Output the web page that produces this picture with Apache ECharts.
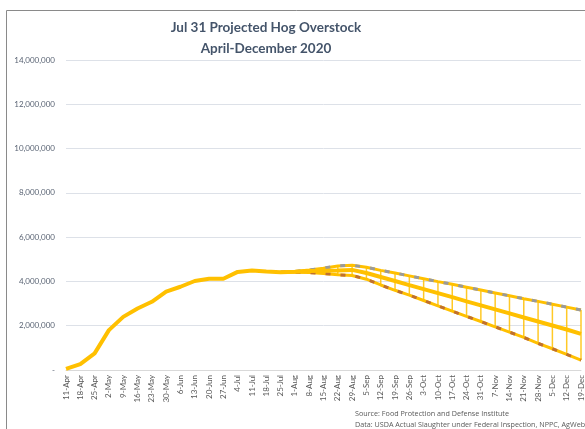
<!DOCTYPE html>
<html>
<head>
<meta charset="utf-8">
<script src="https://cdn.jsdelivr.net/npm/echarts@6/dist/echarts.min.js"></script>
<style>
  html, body { margin: 0; padding: 0; background: #fff; }
  #chart { width: 585px; height: 429px; }
</style>
</head>
<body>
<div id="chart"></div>
<script>
// weekly categories
const weeks = ['11-Apr', '18-Apr', '25-Apr', '2-May', '9-May', '16-May', '23-May', '30-May',
  '6-Jun', '13-Jun', '20-Jun', '27-Jun', '4-Jul', '11-Jul', '18-Jul', '25-Jul',
  '1-Aug', '8-Aug', '15-Aug', '22-Aug', '29-Aug', '5-Sep', '12-Sep', '19-Sep', '26-Sep',
  '3-Oct', '10-Oct', '17-Oct', '24-Oct', '31-Oct', '7-Nov', '14-Nov', '21-Nov', '28-Nov',
  '5-Dec', '12-Dec', '19-Dec'];

// actual + mid projection
const overstock = [50000, 270000, 750000, 1800000, 2400000, 2780000, 3080000, 3540000,
  3760000, 4020000, 4120000, 4120000, 4430000, 4490000, 4450000, 4420000,
  4440000, 4470000, 4480000, 4490000, 4520000, 4380000, 4200000, 4020000, 3830000,
  3650000, 3470000, 3290000, 3100000, 2920000, 2740000, 2560000, 2370000, 2190000,
  2010000, 1830000, 1630000];

// high projection
const highCase = [null, null, null, null, null, null, null, null,
  null, null, null, null, null, null, null, 4420000,
  4450000, 4520000, 4600000, 4700000, 4730000, 4640000, 4500000, 4380000, 4250000,
  4120000, 3990000, 3870000, 3740000, 3610000, 3480000, 3350000, 3220000, 3100000,
  2970000, 2840000, 2710000];

// low projection
const lowCase = [null, null, null, null, null, null, null, null,
  null, null, null, null, null, null, null, 4420000,
  4420000, 4400000, 4360000, 4300000, 4270000, 4100000, 3840000, 3600000, 3380000,
  3140000, 2900000, 2660000, 2420000, 2190000, 1950000, 1710000, 1470000, 1200000,
  960000, 710000, 450000];

const yTicks = { min: 0, max: 14000000, step: 2000000 };
const firstBand = 18; // hi-lo lines start at 15-Aug

const gold = '#FFC000';

const band = [];
for (let i = firstBand; i < weeks.length; i++) {
  band.push([i, lowCase[i], highCase[i]]);
}

const chart = echarts.init(document.getElementById('chart'));

const option = {
  animation: false,
  textStyle: { fontFamily: 'Lato' },
  grid: { left: 66, right: 4, top: 60, bottom: 59 },
  graphic: [
    { type: 'rect', silent: true, shape: { x: 6.5, y: 10.5, width: 600, height: 440 },
      style: { fill: 'none', stroke: '#8a8a8a', lineWidth: 1 } },
    { type: 'text', x: 266, y: 28, silent: true,
      style: { text: 'Jul 31 Projected Hog Overstock', fill: '#44546A', font: 'bold 13.5px Lato',
        textAlign: 'center', textVerticalAlign: 'middle' } },
    { type: 'text', x: 266, y: 49, silent: true,
      style: { text: 'April-December 2020', fill: '#44546A', font: 'bold 13.5px Lato',
        textAlign: 'center', textVerticalAlign: 'middle' } },
    { type: 'text', x: 355, y: 414, silent: true,
      style: { text: 'Source: Food Protection and Defense Institute', fill: '#595959',
        font: '7.2px "Open Sans"', textVerticalAlign: 'middle' } },
    { type: 'text', x: 355, y: 425, silent: true,
      style: { text: 'Data: USDA Actual Slaughter under Federal Inspection, NPPC, AgWeb', fill: '#595959',
        font: '7.2px "Open Sans"', textVerticalAlign: 'middle' } }
  ],
  xAxis: {
    type: 'category',
    data: weeks,
    boundaryGap: false,
    axisLine: { lineStyle: { color: '#d9d9d9' } },
    axisTick: { show: false },
    axisLabel: { interval: 0, rotate: 90, fontSize: 8, color: '#595959', margin: 5 }
  },
  yAxis: {
    type: 'value',
    min: yTicks.min,
    max: yTicks.max,
    interval: yTicks.step,
    axisLine: { show: false },
    axisTick: { show: false },
    splitLine: { lineStyle: { color: '#dde1e8' } },
    axisLabel: {
      fontSize: 8, color: '#5a6474', margin: 11,
      formatter: v => v === 0 ? '-' : v.toLocaleString('en-US')
    }
  },
  series: [
    {
      type: 'custom',
      silent: true,
      z: 1,
      data: band,
      renderItem: (params, api) => {
        const lo = api.coord([api.value(0), api.value(1)]);
        const hi = api.coord([api.value(0), api.value(2)]);
        return {
          type: 'line',
          shape: { x1: lo[0], y1: lo[1], x2: hi[0], y2: hi[1] },
          style: { stroke: gold, lineWidth: 1.5, opacity: 0.85 }
        };
      }
    },
    { type: 'line', data: highCase, showSymbol: false, silent: true, z: 2,
      lineStyle: { color: gold, width: 3 } },
    { type: 'line', data: highCase, showSymbol: false, silent: true, z: 3,
      lineStyle: { color: '#9a9a9a', width: 3, type: [5, 10] } },
    { type: 'line', data: lowCase, showSymbol: false, silent: true, z: 2,
      lineStyle: { color: gold, width: 3 } },
    { type: 'line', data: lowCase, showSymbol: false, silent: true, z: 3,
      lineStyle: { color: '#c0702e', width: 3, type: [5, 10] } },
    { type: 'line', data: overstock, showSymbol: false, silent: true, z: 4,
      lineStyle: { color: gold, width: 4 } }
  ]
};

chart.setOption(option);
</script>
</body>
</html>
